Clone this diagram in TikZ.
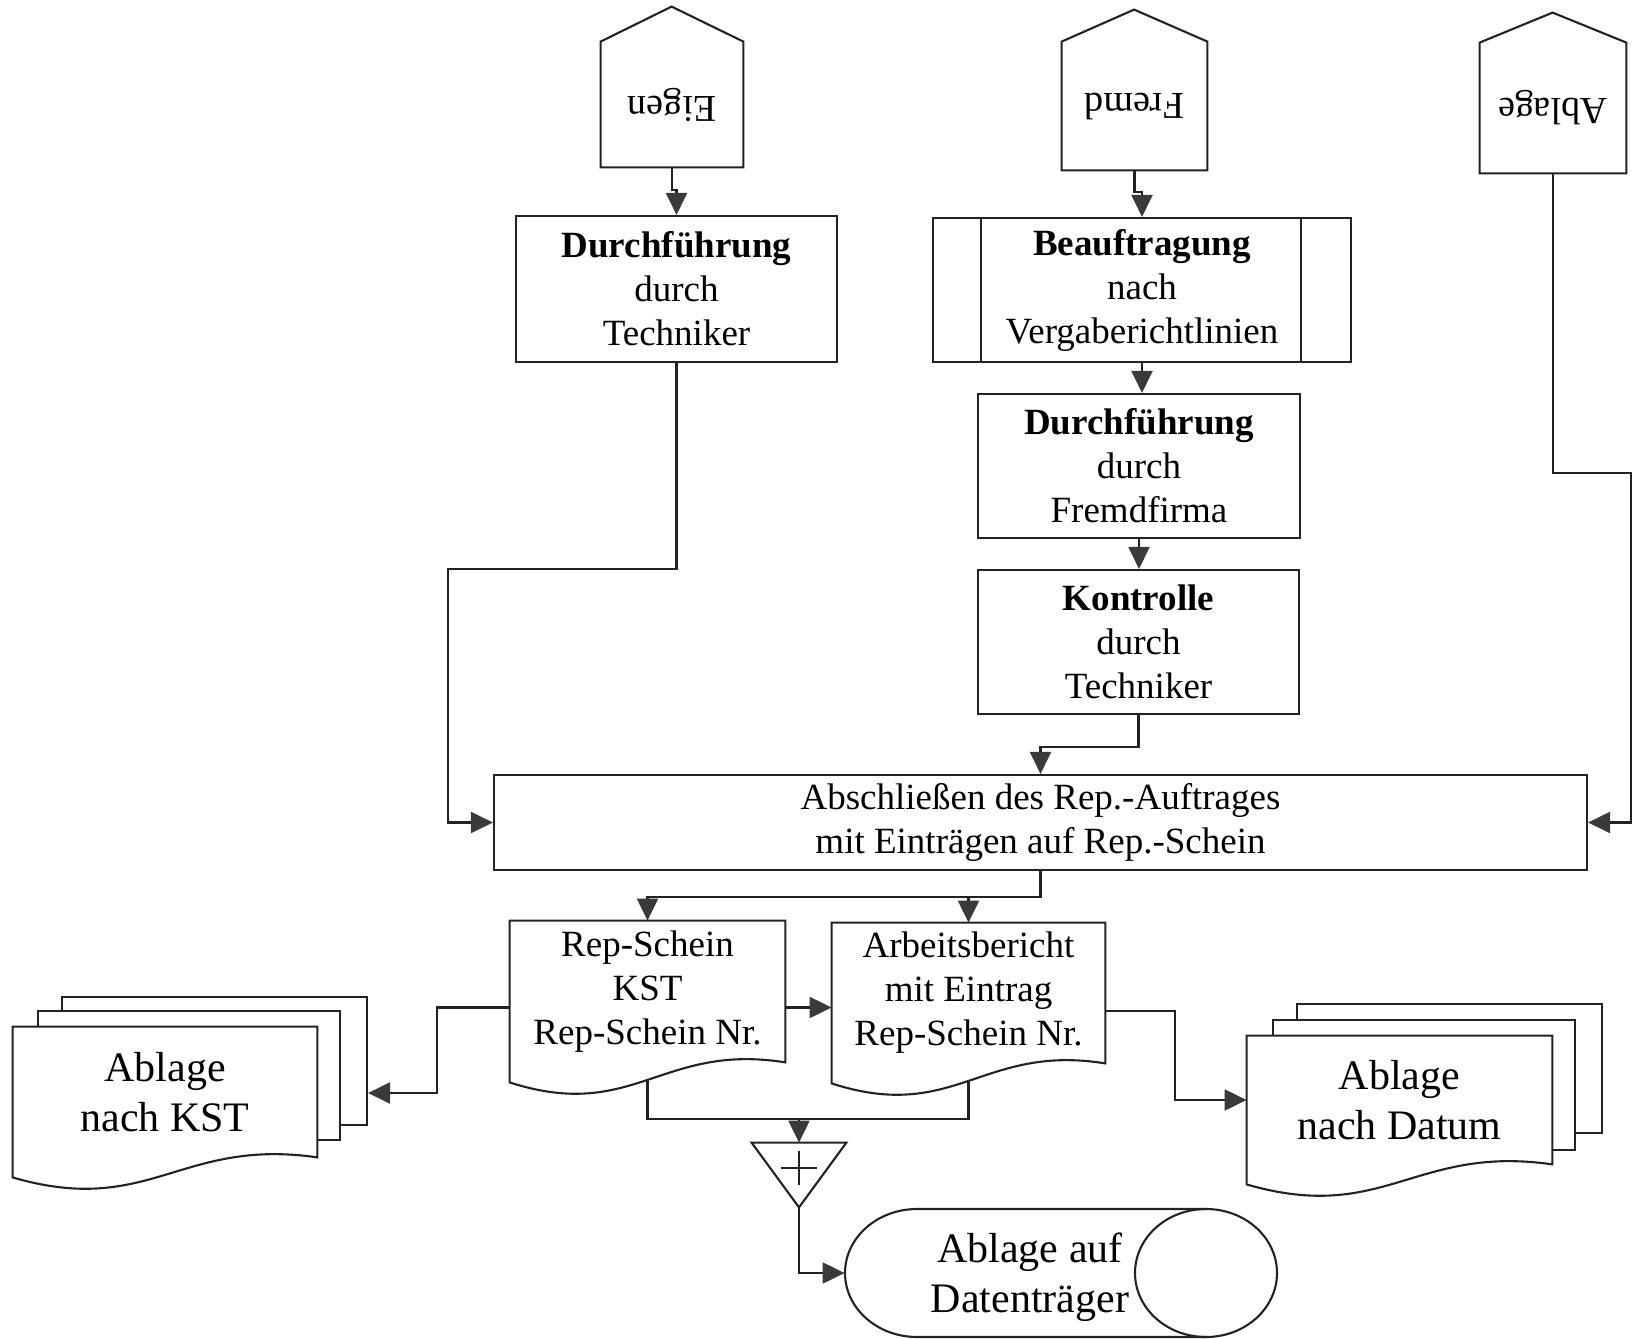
\documentclass[tikz,border=0pt]{standalone}
\usepackage{fontspec}
\setmainfont{Liberation Serif}
\usepackage{graphicx}
\usetikzlibrary{arrows.meta,calc}
\definecolor{ink}{HTML}{222222}
\definecolor{tipc}{HTML}{3A3A3A}
\tikzset{
  ln/.style={draw=ink, line width=1.05pt},
  arr/.style={ln, -{Triangle[length=11pt,width=10.5pt,color=tipc,fill=tipc]}},
  sz/.style 2 args={minimum width=#1*0.5pt, minimum height=#2*0.5pt},
  box/.style={draw=ink, line width=1.05pt, fill=white, inner sep=0pt, align=center, font=\fontsize{18.5}{22}\selectfont},
  area/.style={draw=none, inner sep=0pt, align=center, font=\fontsize{18.5}{22}\selectfont},
  bigtxt/.style={area, font=\fontsize{21}{25}\selectfont},
  rottxt/.style={area, font=\fontsize{19}{22}\selectfont},
  sheet/.style={draw=ink, line width=1.05pt, fill=white, inner sep=0pt},
}
\newcommand\DocOutline[2][]{\draw[ln,#1] (#2.north west) -- (#2.north east) -- (#2.south east)
  .. controls ($(#2.south west)!0.55!(#2.south east)+(0,-20)$) and ($(#2.south west)!0.45!(#2.south east)+(0,60)$)
  .. ($(#2.south west)+(0,20)$) -- cycle;}
\begin{document}
\begin{tikzpicture}[x=0.5pt,y=-0.5pt]
\useasboundingbox (0,0) rectangle (1634,1339);

% source pentagons
\node[rottxt, sz={142}{125}] (eigen) at (672,104.5) {\rotatebox{180}{Eigen}};
\draw[ln] (eigen.south west) -- (eigen.north west) -- ++(71,-35) -- (eigen.north east) -- (eigen.south east) -- cycle;
\node[rottxt, sz={145}{128}] (fremd) at (1134.5,106) {\rotatebox{180}{Fremd}};
\draw[ln] (fremd.south west) -- (fremd.north west) -- ++(72.5,-32) -- (fremd.north east) -- (fremd.south east) -- cycle;
\node[rottxt, sz={146}{130}] (ablage) at (1553,108) {\rotatebox{180}{Ablage}};
\draw[ln] (ablage.south west) -- (ablage.north west) -- ++(73,-30) -- (ablage.north east) -- (ablage.south east) -- cycle;

% process boxes
\node[box, sz={321}{146}] (d1) at (676.5,289) {\textbf{Durchführung}\\durch\\Techniker};
\node[box, sz={418}{144}] (beauf) at (1142,290) {\textbf{Beauftragung}\\nach\\Vergaberichtlinien};
\draw[ln] ([xshift=24.5pt]beauf.north west) -- ([xshift=24.5pt]beauf.south west);
\draw[ln] ([xshift=-25.5pt]beauf.north east) -- ([xshift=-25.5pt]beauf.south east);
\node[box, sz={322}{144}] (d2) at (1139,466) {\textbf{Durchführung}\\durch\\Fremdfirma};
\node[box, sz={321}{144}] (kon) at (1138.5,642) {\textbf{Kontrolle}\\durch\\Techniker};
\node[box, sz={1093}{95}] (absch) at (1040.5,822.5) {Abschließen des Rep.-Auftrages\\mit Einträgen auf Rep.-Schein};

% documents
\node[area, sz={275}{141}] (rep) at (647.5,991.5) {Rep-Schein\\KST\\Rep-Schein Nr.};
\DocOutline{rep}
\node[area, sz={273}{140}] (arb) at (968.5,993) {Arbeitsbericht\\mit Eintrag\\Rep-Schein Nr.};
\DocOutline{arb}

% stacked: Ablage nach KST
\node[sheet, sz={305}{128}] (kstback) at (214.5,1061) {};
\node[sheet, sz={302}{129}] (kstmid) at (189,1075.5) {};
\node[area, sz={304}{130}] (kst) at (165,1092) {};
\DocOutline[fill=white]{kst}
\node[bigtxt] (ksttext) at (kst.center) {Ablage\\nach KST};

% stacked: Ablage nach Datum
\node[sheet, sz={305}{129}] (datback) at (1449.5,1068.5) {};
\node[sheet, sz={302}{130}] (datmid) at (1424,1085) {};
\node[area, sz={305}{128}] (dat) at (1399.5,1100) {};
\DocOutline[fill=white]{dat}
\node[bigtxt] (dattext) at (dat.center) {Ablage\\nach Datum};

% merge triangle
\node[area, sz={94}{64}] (tri) at (799,1175) {};
\draw[ln] (tri.north west) -- (tri.north east) -- (tri.south) -- cycle;
\draw[ln] (781,1168) -- (817,1168);
\draw[ln] (799,1151) -- (799,1185);

% storage on data medium
\node[area, sz={432}{128}] (disk) at (1061,1273) {};
\draw[ln] (1206,1209) -- (917,1209) .. controls (877.2,1209) and (845,1237.7) .. (845,1273)
  .. controls (845,1308.3) and (877.2,1337) .. (917,1337) -- (1206,1337);
\draw[ln] (1206,1273) ellipse [x radius=71, y radius=64];
\node[bigtxt] (disktext) at (1030,1277) {Ablage auf\\Datenträger};

% connectors
\draw[arr] (eigen.south) -- ++(0,23) -| (d1.north);
\draw[arr] (fremd.south) -- ++(0,22) -| (beauf.north);
\draw[arr] (beauf.south) -- (beauf.south |- d2.north);
\draw[arr] (d2.south) -- (d2.south |- kon.north);
\draw[arr] (kon.south) -- ++(0,32) -| (absch.north);
\draw[arr] (d1.south) -- ++(0,206) -- ++(-228.5,0) |- (absch.west);
\draw[arr] (ablage.south) |- (1631,473) |- (absch.east);
\draw[arr] (absch.south) -- ++(0,26) -| (rep.north);
\draw[arr] (absch.south) ++(0,26) -| (arb.north);
\coordinate (ra) at ([yshift=-8pt]rep.east);
\draw[arr] (ra) -- (ra -| arb.west);
\coordinate (rl) at ([yshift=-8pt]rep.west);
\coordinate (kin) at ([yshift=-16pt]kstback.east);
\draw[arr] (rl) -- ++(-73,0) |- (kin);
\draw[arr] ([yshift=-9pt]arb.east) -- ++(70,0) |- (dat.west);
\coordinate (rb) at ([yshift=-9.5pt]rep.south);
\coordinate (ab) at ([yshift=-9.5pt]arb.south);
\draw[ln] (rb) -- ++(0,38) -| (ab);
\draw[arr] (tri.north |- 0,1119) -- (tri.north);
\draw[arr] (tri.south) |- (disk.west);
\end{tikzpicture}
\end{document}
